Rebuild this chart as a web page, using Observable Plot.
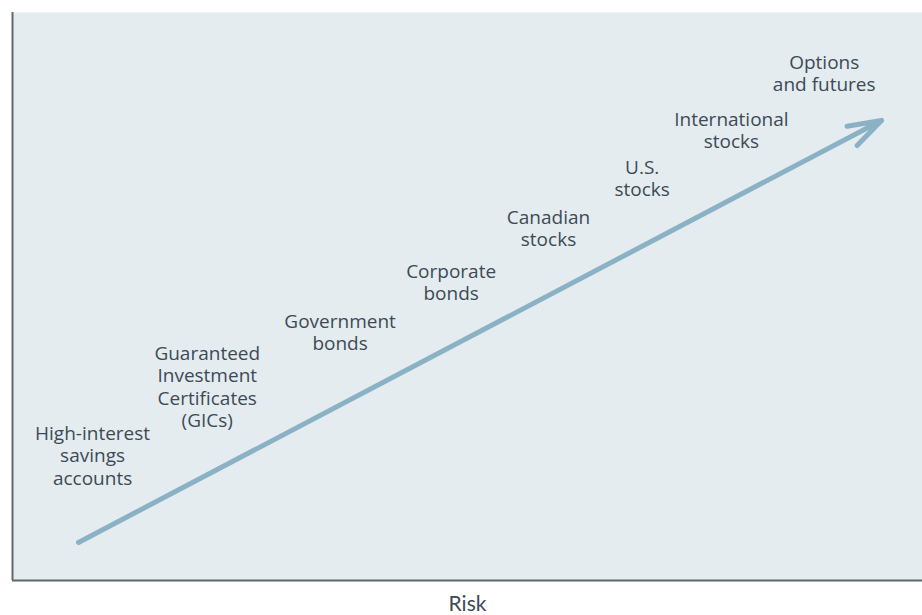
<!DOCTYPE html>
<html>
<head>
<meta charset="utf-8">
<script src="https://cdn.jsdelivr.net/npm/d3@7"></script>
<script src="https://cdn.jsdelivr.net/npm/@observablehq/plot@0.6"></script>
<style>
  html, body { margin: 0; padding: 0; background: #ffffff; }
  svg { display: block; }
</style>
</head>
<body>
<script>
// Investment categories (label positions: risk on x, return on y, 0–100 scale)
const categories = [
  "High-interest\nsavings\naccounts",
  "Guaranteed\nInvestment\nCertificates\n(GICs)",
  "Government\nbonds",
  "Corporate\nbonds",
  "Canadian\nstocks",
  "U.S.\nstocks",
  "International\nstocks",
  "Options\nand futures"
];
const riskValues   = [8.8, 21.4, 36.0, 48.2, 58.9, 69.2, 79.0, 89.2];
const returnValues = [22.1, 34.2, 43.75, 52.6, 62.1, 70.9, 79.3, 89.4];

// Risk–return arrow (start and end)
const arrowRisk   = [7.25, 95.5];
const arrowReturn = [6.7, 81.0];

const axisLabel = "Risk";

const labelData = categories.map((c, i) => ({label: c, risk: riskValues[i], ret: returnValues[i]}));
const arrowData = [{x1: arrowRisk[0], y1: arrowReturn[0], x2: arrowRisk[1], y2: arrowReturn[1]}];

const chart = Plot.plot({
  width: 922,
  height: 615,
  marginLeft: 12,
  marginRight: 0,
  marginTop: 12,
  marginBottom: 35,
  x: {domain: [0, 100], axis: null},
  y: {domain: [0, 100], axis: null},
  style: {background: "transparent"},
  marks: [
    Plot.frame({fill: "#e4ecf0", stroke: null}),
    Plot.ruleX([0], {stroke: "#5f6870", strokeWidth: 2}),
    Plot.ruleY([0], {stroke: "#5f6870", strokeWidth: 2}),
    Plot.arrow(arrowData, {
      x1: "x1", y1: "y1", x2: "x2", y2: "y2",
      stroke: "#8ab2c4", strokeWidth: 5,
      headLength: 10.5, headAngle: 36, bend: 0
    }),
    Plot.text(labelData, {
      x: "risk", y: "ret", text: "label",
      fill: "#3d4a55", fontSize: 19, fontFamily: "Open Sans",
      lineHeight: 1.18, lineAnchor: "middle", textAnchor: "middle"
    }),
    Plot.text([axisLabel], {
      frameAnchor: "bottom", text: d => d, dy: 24,
      fill: "#3d4a55", fontSize: 21, fontFamily: "Lato",
      lineAnchor: "middle"
    })
  ]
});
document.body.appendChild(chart);
</script>
</body>
</html>
